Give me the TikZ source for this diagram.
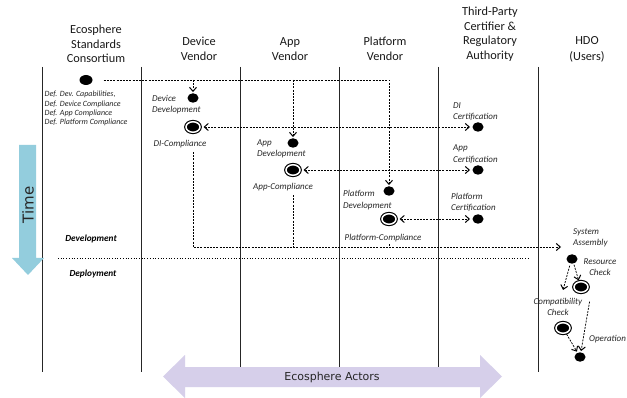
\documentclass[tikz,border=0pt]{standalone}
\usepackage{fontspec}
\setmainfont{Carlito}
\newfontfamily\dejavu{DejaVu Sans}
\usetikzlibrary{arrows.meta,shapes.geometric,calc}
\definecolor{timeblue}{HTML}{93CDDD}
\definecolor{actorlav}{HTML}{D6CFEA}
\begin{document}
\begin{tikzpicture}[x=1pt,y=-1pt,
  lane/.style={line width=1pt, draw=black!85},
  hdr/.style={font=\fontsize{12.3}{14.5}\selectfont, align=center, inner sep=0, text=black!90},
  lbl/.style={font=\fontsize{9}{11.3}\selectfont\itshape, inner sep=0, text=black!85},
  deflbl/.style={font=\fontsize{8}{9.4}\selectfont\itshape, inner sep=0, align=left, text=black!85},
  phase/.style={font=\fontsize{9.3}{11}\selectfont\bfseries\itshape, inner sep=0},
  dot/.style={ellipse, fill=black, inner sep=0, minimum width=11pt, minimum height=9.5pt},
  bigdot/.style={ellipse, fill=black, inner sep=0, minimum width=13pt, minimum height=10pt},
  dbl/.style={ellipse, fill=black, draw=black, line width=1.1pt, double=white, double distance=1.5pt, inner sep=0, minimum width=14pt, minimum height=10.5pt},
  flow/.style={dash pattern=on 2pt off 1.2pt, line width=0.75pt},
  tip/.style={-{Straight Barb[length=4pt,width=7pt,line width=1pt]}},
  tips/.style={{Straight Barb[length=4pt,width=7pt,line width=1pt]}-{Straight Barb[length=4pt,width=7pt,line width=1pt]}}
]
\useasboundingbox (0,0) rectangle (627,398);
\fill[white] (0,0) rectangle (627,398);

% headers
\node[hdr] (hEco) at (96,44) {Ecosphere\\Standards\\Consortium};
\node[hdr] (hDev) at (199,49) {Device\\Vendor};
\node[hdr] (hApp) at (290,49) {App\\Vendor};
\node[hdr] (hPlat) at (385,49) {Platform\\Vendor};
\node[hdr] (hThird) at (490,34) {Third-Party\\Certifier \&\\Regulatory\\Authority};
\node[hdr, font=\fontsize{12.3}{16}\selectfont] (hHDO) at (587,49.5) {HDO\\(Users)};

% lanes
\foreach \x/\n in {42/l0,141/l1,240/l2,339/l3,438/l4,538/l5}{
  \coordinate (\n t) at (\x,67);
  \coordinate (\n b) at (\x,372);
  \draw[lane] (\n t) -- (\n b);
}

% time arrow
\fill[timeblue] (19,145) -- (36,145) -- (36,258) -- (44,258) -- (28,275) -- (12,258) -- (19,258) -- cycle;
\node[font=\dejavu\fontsize{15}{17}\selectfont, rotate=90, text=black!85] (time) at (28,205) {Time};

% ecosphere actors arrow
\fill[actorlav] (163,376.5) -- (185,355) -- (185,367) -- (480,367) -- (480,355) -- (502,376.5) -- (480,398) -- (480,387) -- (185,387) -- (185,398) -- cycle;
\node[font=\dejavu\fontsize{11}{13}\selectfont, text=black!85] (actors) at (332,377) {Ecosphere Actors};

% consortium
\node[bigdot] (eco) at (86,80) {};
\node[deflbl, anchor=north west] (defs) at (44.5,91) {Def. Dev. Capabilities,\\Def. Device Compliance\\Def. App Compliance\\Def. Platform Compliance};

% development nodes
\node[dot] (devDev) at (193,98) {};
\node[dot] (appDev) at (293,143) {};
\node[dot] (platDev) at (389,191) {};
\node[dbl] (diComp) at (193,127) {};
\node[dbl] (appComp) at (293,170) {};
\node[dbl] (platComp) at (389,219) {};
\node[dot] (diCert) at (478,127) {};
\node[dot] (appCert) at (478,170) {};
\node[dot] (platCert) at (478,219) {};

\node[lbl, align=left, anchor=west] (devDevL) at (152,104.5) {Device\\Development};
\node[lbl] (diCompL) at (180,144) {DI-Compliance};
\node[lbl, align=left, anchor=west] (appDevL) at (257,149) {App\\Development};
\node[lbl] (appCompL) at (283,187) {App-Compliance};
\node[lbl, align=left, anchor=west] (platDevL) at (343,200) {Platform\\Development};
\node[lbl] (platCompL) at (383,238) {Platform-Compliance};
\node[lbl, align=left, anchor=west] (diCertL) at (453,111.5) {DI\\Certification};
\node[lbl, align=left, anchor=west] (appCertL) at (453,154) {App\\Certification};
\node[lbl, align=left, anchor=west] (platCertL) at (451,202.5) {Platform\\Certification};

% definition flows
\draw[flow, tip, shorten <=11pt, shorten >=1pt] (eco.east) -- (eco.east -| platDev) -- (platDev.north);
\draw[flow, tip, shorten >=1pt] (eco -| devDev) -- (devDev.north);
\draw[flow, tip, shorten >=1pt] (eco -| appDev) -- (appDev.north);

% compliance <-> certification
\draw[flow, tips, shorten <=3pt, shorten >=8pt] (diComp.east) -- (diCert.center);
\draw[flow, tips, shorten <=3pt, shorten >=8pt] (appComp.east) -- (appCert.center);
\draw[flow, tips, shorten <=3pt, shorten >=8pt] (platComp.east) -- (platCert.center);

% to system assembly
\coordinate (sa) at (561,247);
\draw[flow, tip] ($(diCompL.south -| diComp)+(0,4)$) -- (diComp |- sa) -- (sa);
\draw[flow] ($(appCompL.south -| appComp)+(0,4)$) -- (appComp |- sa);
\draw[flow] ($(platCompL.south -| platComp)+(0,2)$) -- (platComp |- sa);

% phases
\node[phase] (devPhase) at (91,239) {Development};
\node[phase] (depPhase) at (93,274) {Deployment};
\coordinate (sepL) at (58,258);
\coordinate (sepR) at (529,258);
\draw[dotted, line width=0.7pt] (sepL) -- (sepR);

% HDO
\node[lbl, align=left, anchor=west] (sysL) at (573,237.5) {System\\Assembly};
\node[dot] (rcDot) at (572,259) {};
\node[lbl, align=center] (rcL) at (600,267) {Resource\\Check};
\node[dbl] (rcDbl) at (581,287) {};
\node[lbl, align=center] (ccL) at (558,307) {Compatibility\\Check};
\node[dbl] (ccDbl) at (563,328) {};
\node[dot] (opDot) at (580,357) {};
\node[lbl, anchor=west] (opL) at (589,339) {Operation};

\draw[flow, tip, shorten <=1pt, shorten >=1pt] (rcDot.-70) -- (rcDbl.110);
\draw[flow, tip, shorten <=2pt] (rcDot.-110) -- (563,290);
\draw[flow, tip, shorten <=1pt, shorten >=1pt] (ccDbl.-60) -- (opDot.120);
\draw[flow, tip, shorten >=1pt] ($(rcDbl.-45)+(4,10)$) -- (opDot.80);
\end{tikzpicture}
\end{document}
